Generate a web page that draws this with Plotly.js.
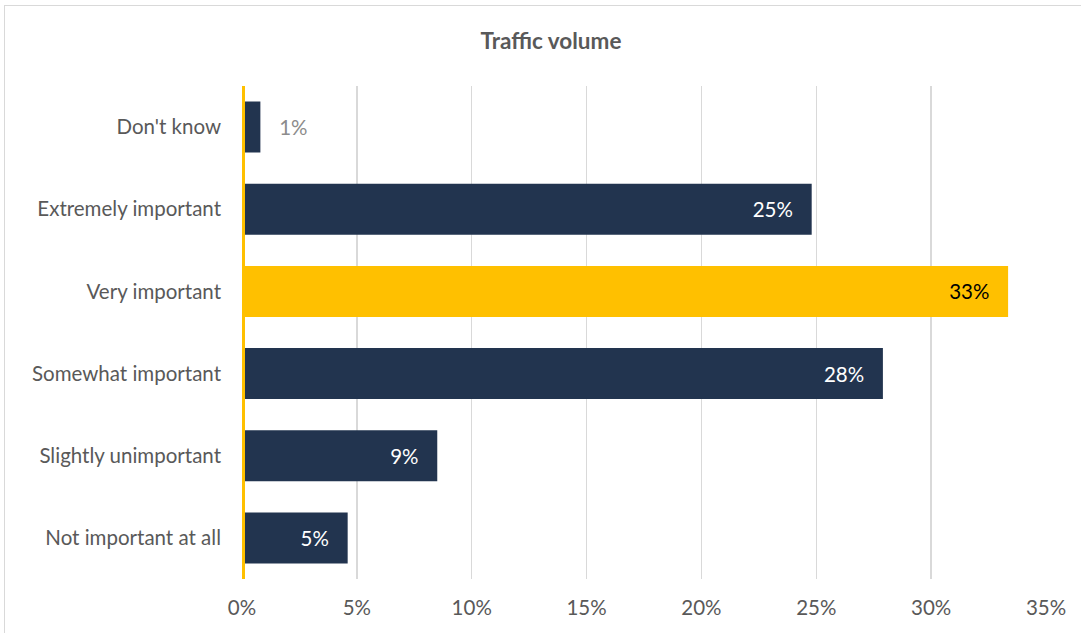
<!DOCTYPE html>
<html>
<head>
<meta charset="utf-8">
<script src="https://cdn.plot.ly/plotly-3.0.1.min.js"></script>
<style>
  html, body { margin: 0; padding: 0; background: #ffffff; overflow: hidden; }
  #wrap { position: relative; width: 1081px; height: 633px; overflow: hidden; }
  #chart { position: absolute; left: 0; top: 0; width: 1081px; height: 633px; }
  #frame { position: absolute; left: 4px; top: 5px; width: 1200px; height: 800px;
           border: 1.5px solid #d9d9d9; box-sizing: border-box; pointer-events: none; }
</style>
</head>
<body>
<div id="wrap">
  <div id="chart"></div>
  <div id="frame"></div>
</div>
<script>
// Data (top-to-bottom order as shown)
var categories = ["Don't know", "Extremely important", "Very important", "Somewhat important", "Slightly unimportant", "Not important at all"];
var values = [0.8, 24.8, 33.35, 27.9, 8.5, 4.6];
var labels = ["1%", "25%", "33%", "28%", "9%", "5%"];
var xTicks = [0, 5, 10, 15, 20, 25, 30, 35];

var navy = '#22344F';
var gold = '#FFC000';
var barColors = categories.map(function (c) { return c === 'Very important' ? gold : navy; });
var textPos = values.map(function (v) { return v < 3 ? 'outside' : 'inside'; });
var textColors = categories.map(function (c, i) {
  if (textPos[i] === 'outside') return '#8c8c8c';
  return c === 'Very important' ? '#000000' : '#ffffff';
});
var textVals = labels.map(function (t, i) {
  return textPos[i] === 'outside' ? '\u00a0\u00a0\u00a0' + t : t + '\u00a0\u00a0\u00a0';
});

var font = "Lato, 'Open Sans', sans-serif";
var fs = 20.5;

var trace = {
  type: 'bar',
  orientation: 'h',
  y: categories,
  x: values,
  marker: { color: barColors },
  width: 0.62,
  text: textVals,
  textposition: textPos,
  insidetextanchor: 'end',
  textfont: { family: font, size: fs, color: textColors },
  outsidetextfont: { family: font, size: fs, color: '#8c8c8c' },
  insidetextfont: { family: font, size: fs, color: textColors.map(function (c, i) { return textPos[i] === 'inside' ? c : '#ffffff'; }) },
  constraintext: 'none',
  cliponaxis: false,
  hoverinfo: 'none'
};

var layout = {
  width: 1081,
  height: 633,
  margin: { l: 242, r: 35, t: 86, b: 54 },
  paper_bgcolor: 'rgba(0,0,0,0)',
  plot_bgcolor: 'rgba(0,0,0,0)',
  showlegend: false,
  title: {
    text: '<b>Traffic volume</b>',
    font: { family: font, size: 22.5, color: '#595959' },
    xref: 'container', x: 551 / 1081, xanchor: 'center',
    yref: 'container', y: 1 - 41 / 633, yanchor: 'middle'
  },
  xaxis: {
    range: [0, 35],
    tickvals: xTicks,
    ticktext: xTicks.map(function (v) { return v + '%'; }),
    showgrid: true,
    gridcolor: '#d9d9d9',
    gridwidth: 1.5,
    zeroline: false,
    showline: false,
    ticks: '',
    ticklabelstandoff: 14,
    tickfont: { family: font, size: fs, color: '#595959' },
    fixedrange: true
  },
  yaxis: {
    autorange: 'reversed',
    type: 'category',
    showgrid: false,
    zeroline: false,
    showline: false,
    ticks: '',
    ticklabelstandoff: 20,
    tickfont: { family: font, size: fs, color: '#595959' },
    fixedrange: true
  },
  shapes: [{
    type: 'line', xref: 'x', yref: 'paper',
    x0: 0, x1: 0, y0: 0, y1: 1,
    line: { color: gold, width: 6 },
    layer: 'above'
  }]
};

Plotly.newPlot('chart', [trace], layout, { displayModeBar: false, staticPlot: true });
</script>
</body>
</html>
